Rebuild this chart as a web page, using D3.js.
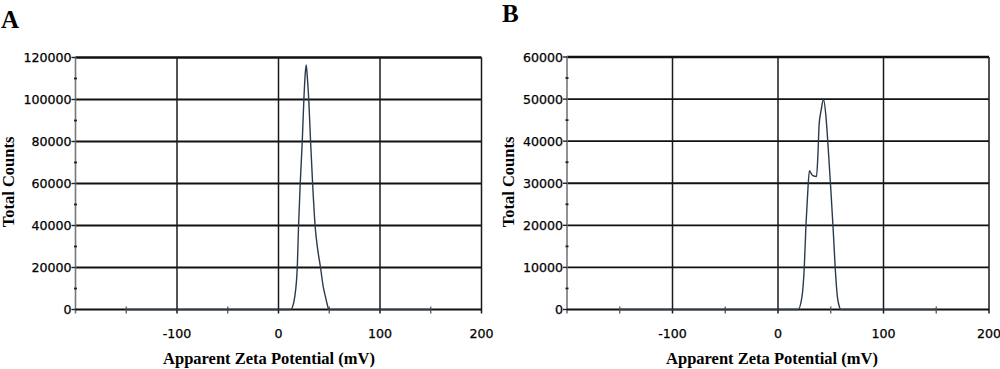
<!DOCTYPE html>
<html><head><meta charset="utf-8">
<script src="https://cdn.jsdelivr.net/npm/d3@7"></script>
<style>body{margin:0;background:#fff} svg{display:block}</style>
</head><body>
<svg id="chart" width="1000" height="369"></svg>
<script>
// ---- data ----
const panelLabels = ["A", "B"];
const xLabel = "Apparent Zeta Potential (mV)";
const yLabel = "Total Counts";
const xTickValues = [-100, 0, 100, 200];
const xGridValues = [-200, -100, 0, 100, 200];
const xMinorValues = [-150, -50, 50, 150];
const yTicksA = [0, 20000, 40000, 60000, 80000, 100000, 120000];
const yMinorA = [10000, 30000, 50000, 70000, 90000, 110000];
const yTicksB = [0, 10000, 20000, 30000, 40000, 50000, 60000];
const yMinorB = [5000, 15000, 25000, 35000, 45000, 55000];
const zetaA = [-150, 12, 14, 16, 18.5, 19.7, 21.4, 23.4, 25, 26.3, 27.3, 28.5, 29.9, 31.6, 33.6, 36.2, 38.5, 41.4, 44, 46.3, 48, 49.6, 150];
const countsA = [0, 0, 1500, 6000, 20000, 39000, 60000, 80000, 100000, 112000, 116500, 110000, 99000, 80000, 60000, 39000, 29000, 20000, 11000, 6000, 2500, 0, 0];
const zetaB = [-150, 19, 22.7, 24.9, 26.5, 28, 29.8, 31, 33, 36.5, 37.8, 39, 41, 43.1, 45.4, 47.5, 50.1, 52.3, 54.2, 56.3, 58, 59.5, 150];
const countsB = [0, 0, 3000, 10000, 20000, 27000, 33000, 32500, 31800, 31600, 36500, 44000, 47500, 50000, 46000, 38700, 28400, 19000, 10000, 3000, 800, 0, 0];

// ---- layout ----
const panels = [
  {label: panelLabels[0], zeta: zetaA, counts: countsA, yTicks: yTicksA, yMinor: yMinorA,
   left: 75.5, right: 481.5, top: 57.5, bottom: 309.5, letterX: 1, letterY: 28, titleX: 269, ylabX: 14},
  {label: panelLabels[1], zeta: zetaB, counts: countsB, yTicks: yTicksB, yMinor: yMinorB,
   left: 567, right: 989, top: 57, bottom: 309.5, letterX: 502, letterY: 22, titleX: 772, ylabX: 514}
];

const svg = d3.select("#chart");
const tickFont = "'DejaVu Sans', Verdana, sans-serif";
const titleFont = "'Liberation Serif', 'Times New Roman', serif";

panels.forEach(p => {
  const g = svg.append("g");
  const x = d3.scaleLinear().domain([-200, 200]).range([p.left, p.right]);
  const yMax = p.yTicks[p.yTicks.length - 1];
  const y = d3.scaleLinear().domain([0, yMax]).range([p.bottom, p.top]);

  g.selectAll(".hg").data(p.yTicks.filter(v => v > 0)).enter().append("line")
    .attr("x1", x(-200)).attr("x2", x(200))
    .attr("y1", d => y(d)).attr("y2", d => y(d))
    .attr("stroke", "#111").attr("stroke-width", (d) => d === yMax ? 2.6 : 1.8);

  g.selectAll(".vg").data(xGridValues.filter(v => v > -200)).enter().append("line")
    .attr("x1", d => x(d)).attr("x2", d => x(d))
    .attr("y1", y(yMax)).attr("y2", y(0) + 4)
    .attr("stroke", "#1a1a1a").attr("stroke-width", 1.5);

  g.append("line").attr("x1", x(-200)).attr("x2", x(-200))
    .attr("y1", y(yMax) - 1).attr("y2", y(0) + 4)
    .attr("stroke", "#777").attr("stroke-width", 1.6);

  g.selectAll(".ymt").data(p.yTicks).enter().append("line")
    .attr("x1", x(-200) - 4).attr("x2", x(-200))
    .attr("y1", d => y(d)).attr("y2", d => y(d))
    .attr("stroke", "#222").attr("stroke-width", 1.4);

  g.selectAll(".ymn").data(p.yMinor).enter().append("line")
    .attr("x1", x(-200) - 1.5).attr("x2", x(-200) + 1.5)
    .attr("y1", d => y(d)).attr("y2", d => y(d))
    .attr("stroke", "#222").attr("stroke-width", 1.8);

  g.append("line").attr("x1", x(-200)).attr("x2", x(200))
    .attr("y1", y(0)).attr("y2", y(0))
    .attr("stroke", "#111").attr("stroke-width", 1.8);

  g.selectAll(".xmn").data(xMinorValues).enter().append("line")
    .attr("x1", d => x(d)).attr("x2", d => x(d))
    .attr("y1", y(0) - 3).attr("y2", y(0) + 4)
    .attr("stroke", "#555").attr("stroke-width", 1.3);

  g.selectAll(".yl").data(p.yTicks).enter().append("text")
    .attr("x", x(-200) - 4).attr("y", d => y(d))
    .attr("dy", "0.36em").attr("text-anchor", "end")
    .attr("font-family", tickFont).attr("font-size", 12.6).attr("fill", "#000")
    .attr("stroke", "#000").attr("stroke-width", 0.25)
    .text(d => d);

  g.selectAll(".xl").data(xTickValues).enter().append("text")
    .attr("x", d => x(d)).attr("y", 337.5)
    .attr("text-anchor", "middle")
    .attr("font-family", tickFont).attr("font-size", 12.6).attr("fill", "#000")
    .attr("stroke", "#000").attr("stroke-width", 0.25)
    .text(d => d);

  const pts = p.zeta.map((z, i) => [z, p.counts[i]]);
  const line = d3.line().x(d => x(d[0])).y(d => y(d[1])).curve(d3.curveMonotoneX);
  g.append("path").datum(pts).attr("d", line)
    .attr("fill", "none").attr("stroke", "#2b3a4c").attr("stroke-width", 1.4);

  g.append("text").attr("x", p.titleX).attr("y", 364)
    .attr("text-anchor", "middle").attr("font-family", titleFont)
    .attr("font-weight", "bold").attr("font-size", 16.5).attr("fill", "#000")
    .text(xLabel);
  g.append("text")
    .attr("transform", `translate(${p.ylabX},182) rotate(-90)`)
    .attr("text-anchor", "middle").attr("font-family", titleFont)
    .attr("font-weight", "bold").attr("font-size", 16.5).attr("fill", "#000")
    .text(yLabel);

  g.append("text").attr("x", p.letterX).attr("y", p.letterY)
    .attr("font-family", titleFont).attr("font-weight", "bold")
    .attr("font-size", 25).attr("fill", "#000").text(p.label);
});
</script>
</body></html>
